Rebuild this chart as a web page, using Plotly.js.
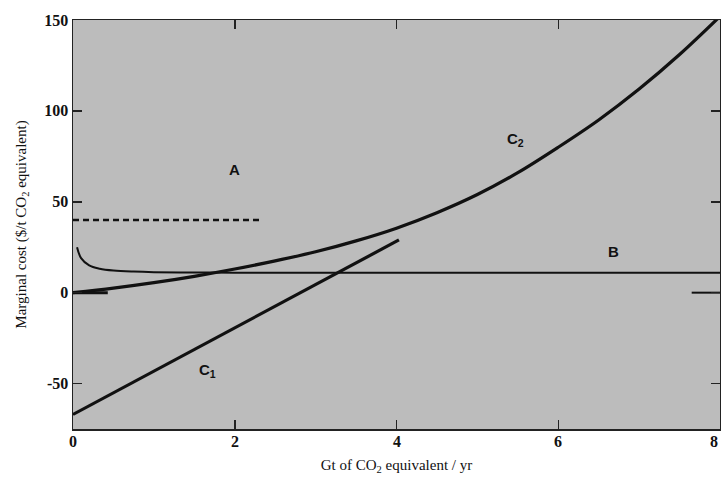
<!DOCTYPE html>
<html>
<head>
<meta charset="utf-8">
<script src="https://cdn.plot.ly/plotly-3.0.1.min.js"></script>
<style>html,body{margin:0;padding:0;background:#fff;}#chart{width:721px;height:481px;}</style>
</head>
<body>
<div id="chart"></div>
<script>
// Curve A (dashed)
const aX = [0, 2.3];
const aY = [40, 40];
// Curve B
const bX = [0.05, 0.1, 0.2, 0.33, 0.5, 0.75, 1.0, 1.5, 2, 3, 4, 5, 6, 7, 8];
const bY = [25, 19, 15, 13.2, 12.2, 11.6, 11.3, 11.1, 11, 11, 11, 11, 11, 11, 11];
// Curve C1 (straight)
const c1X = [0, 4.03];
const c1Y = [-67, 29];
// Curve C2
const c2X = [0, 0.5, 1, 1.5, 2, 2.5, 3, 3.5, 4, 4.5, 5, 5.5, 6, 6.5, 7, 7.5, 8];
const c2Y = [0, 2.5, 5.5, 9, 13, 17.5, 22.5, 28.5, 35.5, 44, 54, 66, 80, 95, 112, 131, 152];
// zero stubs
const stubLX = [0, 0.43];
const stubRX = [7.65, 8];
const stubY = [0, 0];
// labels
const labelText = ['A', 'B', 'C<sub>1</sub>', 'C<sub>2</sub>'];
const labelX = [2.0, 6.68, 1.66, 5.47];
const labelY = [67.5, 22.5, -43, 84];
// x tick labels
const xTicks = [0, 2, 4, 6, 8];
const xTickText = ['0', '2', '4', '6', '8'];

const ink = '#111';
const traces = [
  {x: aX, y: aY, mode: 'lines', line: {color: ink, width: 2.5, dash: '6px,4px'}},
  {x: bX, y: bY, mode: 'lines', line: {color: ink, width: 2, shape: 'spline'}},
  {x: c1X, y: c1Y, mode: 'lines', line: {color: ink, width: 3.2}},
  {x: c2X, y: c2Y, mode: 'lines', line: {color: ink, width: 3.2, shape: 'spline'}},
  {x: stubLX, y: stubY, mode: 'lines', line: {color: ink, width: 3}},
  {x: stubRX, y: stubY, mode: 'lines', line: {color: ink, width: 2}}
];

const serif = 'Liberation Serif, Times New Roman, serif';
const annotations = labelText.map((t, i) => ({
  x: labelX[i], y: labelY[i], xref: 'x', yref: 'y', text: '<b>' + t + '</b>', showarrow: false,
  font: {family: 'Liberation Sans, Arial, sans-serif', size: 15, color: ink}
})).concat(xTicks.map((v, i) => ({
  x: v, y: 0, xref: 'x', yref: 'paper', yanchor: 'top', yshift: -2,
  xanchor: i === xTicks.length - 1 ? 'right' : 'center',
  text: '<b>' + xTickText[i] + '</b>', showarrow: false,
  font: {family: serif, size: 16, color: ink}
})));

const layout = {
  width: 721, height: 481,
  margin: {l: 73, r: 1, t: 20, b: 52},
  paper_bgcolor: '#ffffff',
  plot_bgcolor: '#bcbcbc',
  showlegend: false,
  xaxis: {
    range: [0, 8], tickvals: xTicks, showticklabels: false,
    ticks: 'inside', ticklen: 9, tickwidth: 1.5, tickcolor: '#222',
    showline: true, linecolor: '#222', linewidth: 1.5, mirror: 'ticks',
    showgrid: false, zeroline: false,
    tickfont: {family: serif, size: 16, color: ink},
    title: {text: 'Gt of CO<sub>2</sub> equivalent / yr', font: {family: serif, size: 15, color: ink}, standoff: 30}
  },
  yaxis: {
    range: [-75, 150], tickvals: [-50, 0, 50, 100, 150], ticktext: ['<b>-50</b>', '<b>0</b>', '<b>50</b>', '<b>100</b>', '<b>150</b>'],
    ticks: 'inside', ticklen: 9, tickwidth: 1.5, tickcolor: '#222',
    showline: true, linecolor: '#222', linewidth: 1.5, mirror: 'ticks',
    showgrid: false, zeroline: false,
    tickfont: {family: serif, size: 16, color: ink},
    title: {text: 'Marginal cost ($/t CO<sub>2</sub> equivalent)', font: {family: serif, size: 15, color: ink}, standoff: 14}
  },
  annotations: annotations
};

Plotly.newPlot('chart', traces, layout, {displayModeBar: false, staticPlot: true});
</script>
</body>
</html>
